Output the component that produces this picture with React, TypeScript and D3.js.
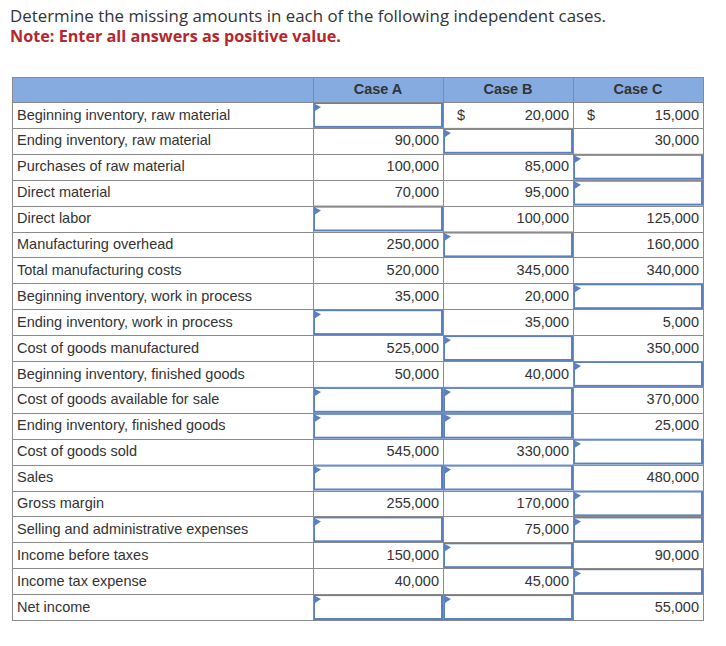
import React from "react";
import * as d3 from "d3";

const labels = [
  "Beginning inventory, raw material",
  "Ending inventory, raw material",
  "Purchases of raw material",
  "Direct material",
  "Direct labor",
  "Manufacturing overhead",
  "Total manufacturing costs",
  "Beginning inventory, work in process",
  "Ending inventory, work in process",
  "Cost of goods manufactured",
  "Beginning inventory, finished goods",
  "Cost of goods available for sale",
  "Ending inventory, finished goods",
  "Cost of goods sold",
  "Sales",
  "Gross margin",
  "Selling and administrative expenses",
  "Income before taxes",
  "Income tax expense",
  "Net income",
];

const cases = ["Case A", "Case B", "Case C"];

// null = input box (missing amount)
const caseA: (number | null)[] = [null, 90000, 100000, 70000, null, 250000, 520000, 35000, null, 525000, 50000, null, null, 545000, null, 255000, null, 150000, 40000, null];
const caseB: (number | null)[] = [20000, null, 85000, 95000, 100000, null, 345000, 20000, 35000, null, 40000, null, null, 330000, null, 170000, 75000, null, 45000, null];
const caseC: (number | null)[] = [15000, 30000, null, null, 125000, 160000, 340000, null, 5000, 350000, null, 370000, 25000, null, 480000, null, null, 90000, null, 55000];
const dollarRows = [0];

const title = "Determine the missing amounts in each of the following independent cases.";
const note = "Note: Enter all answers as positive value.";

export default function App() {
  const W = 726, H = 646;
  const left = 12, labelRight = 313, right = 703;
  const headerTop = 77, headerBottom = 102, rowH = 25.9;
  const series = [caseA, caseB, caseC];

  const x = d3.scaleBand<string>().domain(cases).range([labelRight, right]);
  const y = d3.scaleLinear().domain([0, labels.length]).range([headerBottom, headerBottom + rowH * labels.length]);
  const fmt = d3.format(",");
  const bottom = y(labels.length);
  const grid = "#8a8a8a";
  const boxCol = "#5b80c0";
  const font = "'Liberation Sans', Arial, sans-serif";
  const fs = 14.5;
  const base = 17.5;

  return (
    <svg width={W} height={H} style={{ position: "absolute", left: 0, top: 0, background: "#fff" }}>
      <text x={10} y={22} fontFamily="'Open Sans', sans-serif" fontSize={15.5} fill="#333" textLength={596} lengthAdjust="spacingAndGlyphs">{title}</text>
      <text x={10} y={42} fontFamily="'Open Sans', sans-serif" fontSize={15.5} fontWeight={700} fill="#b5272d" textLength={331} lengthAdjust="spacingAndGlyphs">{note}</text>

      <rect x={left} y={headerTop} width={right - left} height={headerBottom - headerTop} fill="#85abe0" />
      {cases.map((c) => (
        <text key={c} x={x(c)! + x.bandwidth() / 2} y={headerTop + 17} textAnchor="middle" fontFamily={font} fontSize={fs} fontWeight={700} fill="#333">{c}</text>
      ))}

      {labels.map((l, i) => (
        <g key={l}>
          <text x={left + 5} y={y(i) + base} fontFamily={font} fontSize={fs} fill="#333">{l}</text>
          {series.map((s, j) => {
            const cx = x(cases[j])!;
            const v = s[i];
            if (v === null) {
              return (
                <g key={j}>
                  <rect x={cx + 1} y={y(i) + 1} width={x.bandwidth() - 2} height={rowH - 2} fill="#fff" stroke={boxCol} strokeWidth={2} />
                  <path d={`M${cx + 2},${y(i) + 2} L${cx + 8},${y(i) + 5} L${cx + 2},${y(i) + 9} Z`} fill={boxCol} />
                </g>
              );
            }
            return (
              <g key={j}>
                {dollarRows.includes(i) && (
                  <text x={cx + 14} y={y(i) + base} fontFamily={font} fontSize={fs} fill="#333">$</text>
                )}
                <text x={cx + x.bandwidth() - 4} y={y(i) + base} textAnchor="end" fontFamily={font} fontSize={fs} fill="#333">{fmt(v)}</text>
              </g>
            );
          })}
        </g>
      ))}

      {/* grid lines */}
      <rect x={left + 0.5} y={headerTop + 0.5} width={right - left} height={bottom - headerTop} fill="none" stroke={grid} strokeWidth={1} />
      {labels.map((_, i) => (
        <line key={i} x1={left} x2={right} y1={Math.round(y(i)) + 0.5} y2={Math.round(y(i)) + 0.5} stroke={grid} />
      ))}
      {cases.map((c) => (
        <line key={c} x1={Math.round(x(c)!) + 0.5} x2={Math.round(x(c)!) + 0.5} y1={headerTop} y2={bottom} stroke={grid} />
      ))}
    </svg>
  );
}
